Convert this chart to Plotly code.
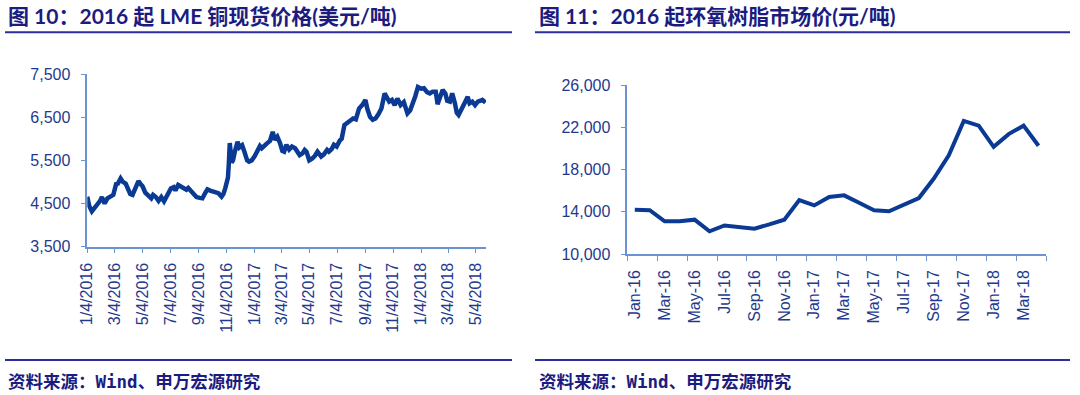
import plotly.graph_objects as go

# ---------------- data ----------------
copper_dates = [
    "2016-01-04", "2016-01-08", "2016-01-14", "2016-01-20", "2016-01-26", "2016-02-01", "2016-02-05",
    "2016-02-11", "2016-02-17", "2016-02-24", "2016-03-01", "2016-03-07", "2016-03-11", "2016-03-17",
    "2016-03-22", "2016-03-28", "2016-04-01", "2016-04-07", "2016-04-12", "2016-04-18", "2016-04-25",
    "2016-04-29", "2016-05-04", "2016-05-10", "2016-05-16", "2016-05-23", "2016-05-27", "2016-06-02",
    "2016-06-08", "2016-06-14", "2016-06-20", "2016-06-24", "2016-06-29", "2016-07-05", "2016-07-11",
    "2016-07-15", "2016-07-21", "2016-07-27", "2016-08-02", "2016-08-08", "2016-08-12", "2016-08-18",
    "2016-08-24", "2016-08-30", "2016-09-06", "2016-09-12", "2016-09-19", "2016-09-23", "2016-09-29",
    "2016-10-05", "2016-10-11", "2016-10-17", "2016-10-24", "2016-10-28", "2016-11-01", "2016-11-04",
    "2016-11-07", "2016-11-09", "2016-11-11", "2016-11-15", "2016-11-18", "2016-11-22", "2016-11-28",
    "2016-12-02", "2016-12-08", "2016-12-13", "2016-12-19", "2016-12-23", "2016-12-29", "2017-01-04",
    "2017-01-10", "2017-01-16", "2017-01-20", "2017-01-26", "2017-02-01", "2017-02-07", "2017-02-13",
    "2017-02-17", "2017-02-23", "2017-03-01", "2017-03-06", "2017-03-10", "2017-03-15", "2017-03-21",
    "2017-03-27", "2017-04-03", "2017-04-07", "2017-04-13", "2017-04-19", "2017-04-24", "2017-04-28",
    "2017-05-04", "2017-05-10", "2017-05-16", "2017-05-22", "2017-05-30", "2017-06-05", "2017-06-12",
    "2017-06-16", "2017-06-22", "2017-06-27", "2017-07-03", "2017-07-10", "2017-07-14", "2017-07-20",
    "2017-07-26", "2017-08-01", "2017-08-08", "2017-08-14", "2017-08-21", "2017-08-28", "2017-09-04",
    "2017-09-08", "2017-09-14", "2017-09-20", "2017-09-26", "2017-10-02", "2017-10-09", "2017-10-16",
    "2017-10-20", "2017-10-26", "2017-11-01", "2017-11-07", "2017-11-13", "2017-11-20", "2017-11-27",
    "2017-12-05", "2017-12-11", "2017-12-18", "2017-12-22", "2017-12-28", "2018-01-04", "2018-01-10",
    "2018-01-17", "2018-01-23", "2018-01-29", "2018-02-05", "2018-02-09", "2018-02-14", "2018-02-20",
    "2018-02-26", "2018-03-02", "2018-03-08", "2018-03-13", "2018-03-19", "2018-03-23", "2018-03-27",
    "2018-04-03", "2018-04-09", "2018-04-16", "2018-04-20", "2018-04-26", "2018-05-02", "2018-05-08",
    "2018-05-14", "2018-05-18", "2018-05-25",
]
copper_prices = [
    4660, 4450, 4320, 4400, 4440, 4560, 4650,
    4500, 4620, 4680, 4700, 4950, 4960, 5080,
    5000, 4960, 4850, 4720, 4700, 4880, 5020,
    4960, 4900, 4750, 4680, 4620, 4700, 4650,
    4560, 4650, 4550, 4620, 4750, 4850, 4880,
    4800, 4930, 4900, 4860, 4820, 4860, 4780,
    4720, 4650, 4630, 4620, 4760, 4830, 4800,
    4780, 4760, 4740, 4660, 4720, 4850, 4950,
    5100, 5450, 5900, 5450, 5500, 5700, 5930,
    5800, 5850, 5700, 5500, 5470, 5500, 5590,
    5700, 5830, 5780, 5860, 5900, 5950, 6160,
    5980, 6050, 5900, 5720, 5700, 5860, 5750,
    5820, 5780, 5700, 5620, 5660, 5740, 5700,
    5500, 5540, 5600, 5700, 5590, 5640, 5740,
    5700, 5760, 5860, 5820, 5960, 6000, 6320,
    6360, 6430, 6470, 6450, 6700, 6780, 6900,
    6700, 6510, 6440, 6470, 6560, 6700, 7050,
    6980, 6860, 6900, 6780, 6930, 6780, 6850,
    6590, 6660, 6840, 6980, 7200, 7160, 7170,
    7080, 7050, 7090, 7090, 6800, 6950, 7130,
    7050, 6880, 6860, 7050, 6820, 6600, 6550,
    6700, 6820, 6970, 6820, 6860, 6780, 6860,
    6880, 6900, 6840,
]
copper_tick_dates = [
    "2016-01-04", "2016-03-04", "2016-05-04", "2016-07-04", "2016-09-04", "2016-11-04",
    "2017-01-04", "2017-03-04", "2017-05-04", "2017-07-04", "2017-09-04", "2017-11-04",
    "2018-01-04", "2018-03-04", "2018-05-04",
]
copper_tick_labels = [
    "1/4/2016", "3/4/2016", "5/4/2016", "7/4/2016", "9/4/2016", "11/4/2016",
    "1/4/2017", "3/4/2017", "5/4/2017", "7/4/2017", "9/4/2017", "11/4/2017",
    "1/4/2018", "3/4/2018", "5/4/2018",
]
copper_y_ticks = [3500, 4500, 5500, 6500, 7500]

epoxy_months = [
    "Jan-16", "Feb-16", "Mar-16", "Apr-16", "May-16", "Jun-16", "Jul-16", "Aug-16", "Sep-16",
    "Oct-16", "Nov-16", "Dec-16", "Jan-17", "Feb-17", "Mar-17", "Apr-17", "May-17", "Jun-17",
    "Jul-17", "Aug-17", "Sep-17", "Oct-17", "Nov-17", "Dec-17", "Jan-18", "Feb-18", "Mar-18",
    "Apr-18",
]
epoxy_prices = [
    14200, 14150, 13100, 13100, 13250, 12150, 12700, 12550, 12400,
    12800, 13250, 15100, 14600, 15400, 15550, 14850, 14150, 14050,
    14700, 15300, 17150, 19350, 22600, 22150, 20150, 21350, 22150,
    20250,
]
epoxy_y_ticks = [10000, 14000, 18000, 22000, 26000]

title_left = "图 10：2016 起 LME 铜现货价格(美元/吨)"
title_right = "图 11：2016 起环氧树脂市场价(元/吨)"
source_text = "资料来源：Wind、申万宏源研究"

# ---------------- style ----------------
W, H = 1080, 395
LINE = "#0b3a94"
AXIS = "#6a93cf"
TICKTXT = "#1f3a8c"
TITLE = "#1c1c80"
RULE = "#2d2d9c"
TICKFONT = dict(family="Liberation Sans, Arial", size=16, color=TICKTXT)


def px_x(v):
    return v / W


def px_y(v):
    return 1 - v / H


fig = go.Figure()

fig.add_trace(go.Scatter(
    x=copper_dates, y=copper_prices, mode="lines",
    line=dict(color=LINE, width=4.5), xaxis="x", yaxis="y",
    hoverinfo="skip", showlegend=False,
))

epoxy_idx = list(range(len(epoxy_months)))
fig.add_trace(go.Scatter(
    x=epoxy_idx, y=epoxy_prices, mode="lines",
    line=dict(color=LINE, width=4), xaxis="x2", yaxis="y2",
    hoverinfo="skip", showlegend=False,
))

base = dict(showgrid=False, zeroline=False, showline=True, automargin=False,
            linecolor=AXIS, linewidth=1.5, tickfont=TICKFONT)
ticks = dict(ticks="outside", tickcolor=AXIS, ticklen=5, tickwidth=1.2)

fig.update_layout(
    width=W, height=H,
    margin=dict(l=0, r=0, t=0, b=0),
    paper_bgcolor="white", plot_bgcolor="white",
    xaxis=dict(
        **base, **ticks,
        domain=[px_x(87.3), px_x(486)],
        anchor="y", type="date",
        range=["2016-01-04", "2018-05-26"],
        tickmode="array", tickvals=copper_tick_dates, ticktext=copper_tick_labels,
        tickangle=-90, ticklabelstandoff=3,
    ),
    yaxis=dict(
        **base, **ticks,
        domain=[px_y(246.7), px_y(74)],
        anchor="x", range=[3500, 7500],
        tickmode="array", tickvals=copper_y_ticks,
        ticktext=[f"{v:,}" for v in copper_y_ticks],
        ticklabelstandoff=7,
    ),
    xaxis2=dict(
        **base,
        domain=[px_x(627.3), px_x(1046)],
        anchor="y2", range=[-0.5, len(epoxy_months) - 0.5],
        tickmode="array", tickvals=epoxy_idx[::2], ticktext=epoxy_months[::2],
        tickangle=-90, ticks="outside", ticklen=0, tickcolor=AXIS,
        ticklabelstandoff=8,
        minor=dict(tick0=-0.5, dtick=2, ticks="outside", ticklen=5,
                   tickcolor=AXIS, tickwidth=1.2, showgrid=False),
    ),
    yaxis2=dict(
        **base, **ticks,
        domain=[px_y(254), px_y(85)],
        anchor="x2", range=[10000, 26000],
        tickmode="array", tickvals=epoxy_y_ticks,
        ticktext=[f"{v:,}" for v in epoxy_y_ticks],
        ticklabelstandoff=7,
    ),
)

title_font = dict(family="Lato, Noto Sans CJK SC", size=21, color=TITLE)
src_font = dict(family="DejaVu Sans Mono, Noto Sans CJK SC", size=17.5, color=TITLE)

for x0, title in [(6, title_left), (537, title_right)]:
    fig.add_annotation(x=px_x(x0), y=px_y(16), xref="paper", yref="paper",
                       text=f"<b>{title}</b>", showarrow=False,
                       xanchor="left", yanchor="middle", font=title_font)
    fig.add_annotation(x=px_x(x0), y=px_y(382), xref="paper", yref="paper",
                       text=f"<b>{source_text}</b>", showarrow=False,
                       xanchor="left", yanchor="middle", font=src_font)

for x0, x1 in [(5, 512), (535, 1070)]:
    for yy in (32.3, 360):
        fig.add_shape(type="line", xref="paper", yref="paper",
                      x0=px_x(x0), x1=px_x(x1), y0=px_y(yy), y1=px_y(yy),
                      line=dict(color=RULE, width=2))

fig.write_html(
    "out.html",
    post_script="document.body.style.margin='0';document.body.style.overflow='hidden';",
)
